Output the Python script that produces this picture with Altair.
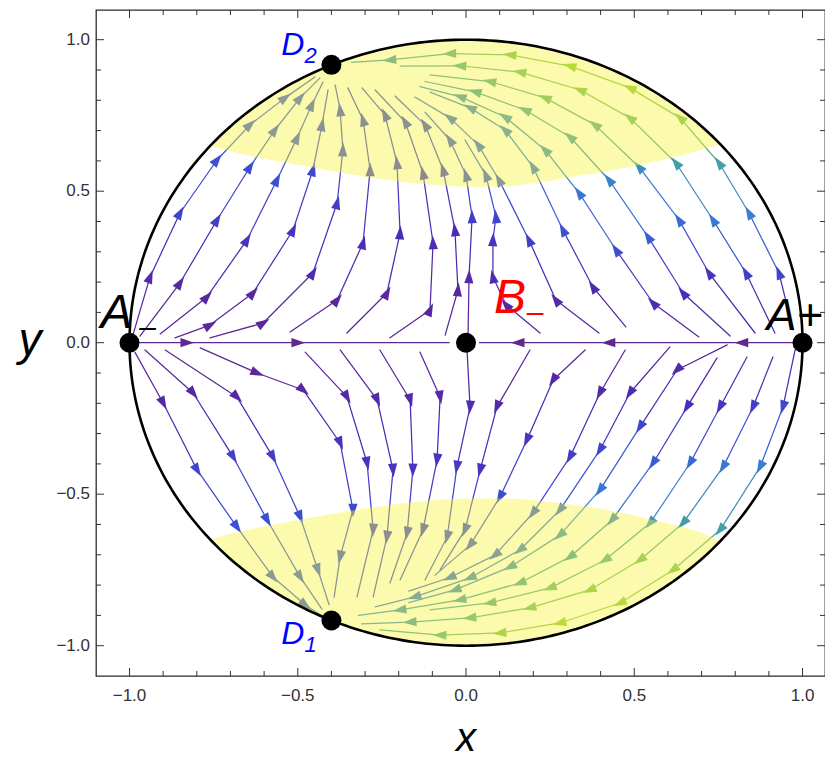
import numpy as np
import pandas as pd
import altair as alt

# ---------------- axes / frame ----------------
X_DOMAIN = [-1.0996, 1.0668]
Y_DOMAIN = [-1.100, 1.098]
W, H = 729, 666

MAJOR_TICKS = [-1.0, -0.5, 0.0, 0.5, 1.0]
TICK_LABELS = ["\u22121.0", "\u22120.5", "0.0", "0.5", "1.0"]
MINOR_TICKS = [-0.9, -0.8, -0.7, -0.6, -0.4, -0.3, -0.2, -0.1,
               0.1, 0.2, 0.3, 0.4, 0.6, 0.7, 0.8, 0.9]
X_TITLE = "x"
Y_TITLE = "y"

# ---------------- fixed points ----------------
POINT_NAMES = ["A-", "A+", "B-", "D2", "D1"]
POINT_X = [-1.0, 1.0, 0.0, -0.4, -0.4]
POINT_Y = [0.0, 0.0, 0.0, 0.917, -0.917]

# ---------------- yellow regions (inner edge) ----------------
TOP_EDGE_X = [-0.76, -0.7, -0.6, -0.5, -0.4, -0.3, -0.2, -0.1, 0.0, 0.1, 0.2, 0.3, 0.4, 0.5, 0.6, 0.7, 0.755]
TOP_EDGE_Y = [0.65, 0.632, 0.607, 0.587, 0.567, 0.548, 0.532, 0.521, 0.515, 0.515, 0.526, 0.545, 0.562, 0.583, 0.608, 0.638, 0.655]
BOT_EDGE_X = [-0.76, -0.7, -0.6, -0.5, -0.4, -0.3, -0.2, -0.1, 0.0, 0.1, 0.2, 0.3, 0.4, 0.5, 0.6, 0.7, 0.755]
BOT_EDGE_Y = [-0.65, -0.63, -0.607, -0.585, -0.565, -0.547, -0.532, -0.52, -0.514, -0.514, -0.52, -0.532, -0.548, -0.57, -0.597, -0.628, -0.655]

# ---------------- streamlines: (x, y, colour level 0=purple .. 1=green) ----------------
A1 = [(-0.990, 0.025, 0.05), (-0.939, 0.217, 0.15), (-0.850, 0.428, 0.40), (-0.740, 0.603, 0.45), (-0.642, 0.719, 0.50), (-0.538, 0.808, 0.50), (-0.449, 0.877, 0.50)]
A2 = [(-0.969, 0.022, 0.02), (-0.850, 0.197, 0.10), (-0.740, 0.405, 0.35), (-0.642, 0.580, 0.45), (-0.568, 0.702, 0.50), (-0.493, 0.808, 0.50), (-0.434, 0.874, 0.50)]
A3 = [(-0.909, 0.029, 0.02), (-0.770, 0.151, 0.10), (-0.651, 0.339, 0.30), (-0.562, 0.537, 0.45), (-0.502, 0.676, 0.50), (-0.458, 0.785, 0.50), (-0.425, 0.860, 0.50)]
A4 = [(-0.865, 0.016, 0.0), (-0.761, 0.058, 0.05), (-0.633, 0.164, 0.10), (-0.514, 0.372, 0.30), (-0.455, 0.570, 0.42), (-0.428, 0.719, 0.45), (-0.410, 0.834, 0.45)]
A5 = [(-0.761, 0.016, 0.0), (-0.603, 0.065, 0.05), (-0.455, 0.230, 0.20), (-0.383, 0.461, 0.35), (-0.366, 0.636, 0.42), (-0.374, 0.768, 0.45), (-0.389, 0.851, 0.45)]
A6 = [(-0.523, 0.035, 0.0), (-0.383, 0.141, 0.10), (-0.306, 0.329, 0.25), (-0.285, 0.570, 0.38), (-0.306, 0.735, 0.42), (-0.351, 0.841, 0.45)]
A7 = [(-0.354, 0.032, 0.0), (-0.235, 0.164, 0.10), (-0.196, 0.362, 0.25), (-0.205, 0.593, 0.38), (-0.241, 0.752, 0.42), (-0.309, 0.841, 0.45)]
A8 = [(-0.226, 0.016, 0.0), (-0.107, 0.108, 0.10), (-0.098, 0.329, 0.22), (-0.128, 0.560, 0.35), (-0.181, 0.729, 0.42), (-0.270, 0.834, 0.45)]
A9 = [(-0.062, 0.025, 0.0), (-0.024, 0.174, 0.10), (-0.033, 0.372, 0.25), (-0.068, 0.570, 0.35), (-0.122, 0.719, 0.42), (-0.211, 0.814, 0.45)]
UP = [(0.006, 0.025, 0.0), (0.009, 0.217, 0.15), (0.018, 0.415, 0.35), (0.0, 0.553, 0.45), (-0.048, 0.669, 0.50), (-0.122, 0.761, 0.50)]

R8 = [(0.220, 0.032, 0.0), (0.119, 0.125, 0.10), (0.080, 0.217, 0.20), (0.080, 0.339, 0.30), (0.089, 0.415, 0.40), (0.059, 0.553, 0.50), (-0.003, 0.669, 0.55)]
R7 = [(0.395, 0.032, 0.0), (0.267, 0.141, 0.15), (0.187, 0.339, 0.35), (0.098, 0.537, 0.50), (0.036, 0.653, 0.55), (-0.048, 0.742, 0.55), (-0.152, 0.811, 0.55)]
R6 = [(0.475, 0.052, 0.0), (0.377, 0.184, 0.20), (0.288, 0.372, 0.45), (0.199, 0.580, 0.60), (0.116, 0.702, 0.65), (0.012, 0.775, 0.65), (-0.107, 0.827, 0.60)]
R5 = [(0.692, 0.019, 0.0), (0.556, 0.131, 0.20), (0.446, 0.306, 0.45), (0.336, 0.494, 0.60), (0.235, 0.636, 0.70), (0.116, 0.745, 0.72), (-0.018, 0.812, 0.70), (-0.137, 0.845, 0.65)]
R4 = [(0.785, 0.022, 0.0), (0.645, 0.164, 0.25), (0.541, 0.349, 0.50), (0.425, 0.537, 0.65), (0.309, 0.679, 0.78), (0.175, 0.768, 0.82), (0.027, 0.828, 0.78), (-0.122, 0.862, 0.70)]
R3 = [(0.859, 0.032, 0.05), (0.722, 0.230, 0.30), (0.633, 0.405, 0.55), (0.514, 0.580, 0.70), (0.383, 0.719, 0.85), (0.235, 0.808, 0.90), (0.071, 0.862, 0.85), (-0.107, 0.884, 0.75)]
R2 = [(0.918, 0.032, 0.05), (0.832, 0.230, 0.35), (0.734, 0.405, 0.60), (0.624, 0.593, 0.78), (0.487, 0.742, 0.92), (0.339, 0.834, 0.95), (0.160, 0.893, 0.92), (-0.018, 0.914, 0.85), (-0.196, 0.913, 0.75)]
R1 = [(0.972, 0.042, 0.05), (0.930, 0.230, 0.40), (0.841, 0.428, 0.62), (0.752, 0.593, 0.80), (0.636, 0.742, 0.95), (0.487, 0.841, 1.0), (0.309, 0.913, 1.0), (0.131, 0.950, 0.95), (-0.048, 0.954, 0.85), (-0.226, 0.933, 0.75), (-0.340, 0.925, 0.65)]

C1 = [(-0.984, -0.031, 0.05), (-0.900, -0.199, 0.15), (-0.799, -0.420, 0.40), (-0.681, -0.608, 0.45), (-0.574, -0.773, 0.50), (-0.478, -0.865, 0.50), (-0.428, -0.902, 0.50)]
C2 = [(-0.954, -0.024, 0.02), (-0.811, -0.166, 0.12), (-0.692, -0.377, 0.38), (-0.591, -0.585, 0.45), (-0.493, -0.773, 0.50), (-0.428, -0.879, 0.50)]
C3 = [(-0.894, -0.024, 0.02), (-0.681, -0.179, 0.12), (-0.574, -0.377, 0.35), (-0.493, -0.575, 0.45), (-0.440, -0.750, 0.50), (-0.407, -0.865, 0.50)]
C4 = [(-0.790, -0.017, 0.0), (-0.621, -0.100, 0.05), (-0.484, -0.156, 0.12), (-0.374, -0.331, 0.30), (-0.336, -0.552, 0.42), (-0.374, -0.707, 0.45), (-0.392, -0.840, 0.45)]
C5 = [(-0.478, -0.031, 0.0), (-0.354, -0.179, 0.15), (-0.294, -0.397, 0.30), (-0.276, -0.618, 0.40), (-0.324, -0.839, 0.45)]
C6 = [(-0.374, -0.024, 0.0), (-0.264, -0.189, 0.15), (-0.217, -0.420, 0.30), (-0.235, -0.641, 0.40), (-0.276, -0.839, 0.45)]
C7 = [(-0.256, -0.024, 0.0), (-0.166, -0.189, 0.15), (-0.158, -0.420, 0.30), (-0.175, -0.628, 0.40), (-0.226, -0.793, 0.45)]
C8 = [(-0.137, -0.031, 0.0), (-0.077, -0.179, 0.15), (-0.086, -0.387, 0.30), (-0.128, -0.618, 0.40), (-0.196, -0.783, 0.45)]
DOWN = [(0.003, -0.024, 0.0), (0.012, -0.212, 0.20), (-0.027, -0.410, 0.35), (-0.056, -0.641, 0.45), (-0.122, -0.783, 0.50)]

S9 = [(0.190, -0.024, 0.0), (0.092, -0.212, 0.15), (0.042, -0.420, 0.30), (-0.003, -0.618, 0.42), (-0.077, -0.750, 0.48)]
S8 = [(0.354, -0.024, 0.0), (0.259, -0.123, 0.12), (0.181, -0.321, 0.30), (0.101, -0.509, 0.45), (0.012, -0.668, 0.50), (-0.092, -0.767, 0.50)]
S7 = [(0.473, -0.024, 0.0), (0.398, -0.166, 0.15), (0.309, -0.377, 0.35), (0.199, -0.562, 0.50), (0.086, -0.701, 0.55), (-0.048, -0.775, 0.55), (-0.170, -0.820, 0.55)]
S6 = [(0.606, -0.014, 0.0), (0.487, -0.166, 0.20), (0.398, -0.354, 0.40), (0.279, -0.552, 0.55), (0.160, -0.684, 0.65), (0.012, -0.776, 0.65), (-0.152, -0.839, 0.60), (-0.270, -0.872, 0.58)]
S5 = [(0.776, -0.007, 0.0), (0.627, -0.090, 0.15), (0.517, -0.278, 0.40), (0.398, -0.486, 0.60), (0.279, -0.635, 0.72), (0.131, -0.740, 0.72), (-0.033, -0.816, 0.68), (-0.170, -0.858, 0.62)]
S4 = [(0.746, -0.050, 0.0), (0.657, -0.212, 0.25), (0.556, -0.397, 0.50), (0.434, -0.585, 0.65), (0.309, -0.707, 0.78), (0.160, -0.793, 0.82), (-0.018, -0.849, 0.78), (-0.196, -0.882, 0.70), (-0.320, -0.900, 0.62)]
S3 = [(0.835, -0.047, 0.05), (0.755, -0.212, 0.30), (0.666, -0.397, 0.55), (0.547, -0.595, 0.72), (0.413, -0.717, 0.85), (0.250, -0.809, 0.90), (0.071, -0.859, 0.85), (-0.107, -0.882, 0.75)]
S2 = [(0.912, -0.047, 0.05), (0.853, -0.212, 0.35), (0.764, -0.410, 0.60), (0.645, -0.595, 0.78), (0.517, -0.717, 0.92), (0.368, -0.816, 0.95), (0.190, -0.875, 0.92), (0.012, -0.908, 0.85), (-0.166, -0.922, 0.75), (-0.310, -0.928, 0.65)]
S1 = [(0.978, -0.024, 0.05), (0.942, -0.212, 0.40), (0.874, -0.410, 0.62), (0.755, -0.618, 0.80), (0.615, -0.750, 0.95), (0.458, -0.859, 1.0), (0.279, -0.925, 1.0), (0.101, -0.958, 0.95), (-0.077, -0.965, 0.85), (-0.256, -0.948, 0.75)]

AXL = [(-0.984, 0.0, 0.0), (-0.83, 0.0, 0.0), (-0.50, 0.0, 0.0), (-0.05, 0.0, 0.0)]
AXR = [(0.99, 0.0, 0.0), (0.82, 0.0, 0.0), (0.425, 0.0, 0.0), (0.155, 0.0, 0.0), (0.04, 0.0, 0.0)]

STREAMS = [A1, A2, A3, A4, A5, A6, A7, A8, A9, UP,
           R1, R2, R3, R4, R5, R6, R7, R8,
           C1, C2, C3, C4, C5, C6, C7, C8, DOWN,
           S1, S2, S3, S4, S5, S6, S7, S8, S9,
           AXL, AXR]

COLOR_LEVELS = [0.0, 0.25, 0.45, 0.62, 0.8, 1.0]
COLOR_RANGE = ["#612690", "#4a2cb8", "#3d4ed3", "#3a7dd4", "#44a0a2", "#8dc63f"]

# ---------------- build tables ----------------
sx = W / (X_DOMAIN[1] - X_DOMAIN[0])
sy = H / (Y_DOMAIN[1] - Y_DOMAIN[0])

seg_rows, arr_rows = [], []
for k, line in enumerate(STREAMS):
    for i in range(len(line) - 1):
        (x0, y0, c0), (x1, y1, c1) = line[i], line[i + 1]
        seg_rows.append({"x": x0, "y": y0, "x2": x1, "y2": y1, "c": (c0 + c1) / 2})
    for i in range(1, len(line) - 1):
        xp, yp, _ = line[i - 1]
        xn, yn, _ = line[i + 1]
        ang = float(np.degrees(np.arctan2((xn - xp) * sx, (yn - yp) * sy)) % 360)
        arr_rows.append({"x": line[i][0], "y": line[i][1], "c": line[i][2], "ang": ang})
seg_df = pd.DataFrame(seg_rows)
arr_df = pd.DataFrame(arr_rows)

top_df = pd.DataFrame({"x": TOP_EDGE_X,
                       "y": np.sqrt(np.clip(1 - np.array(TOP_EDGE_X) ** 2, 0, None)),
                       "y2": TOP_EDGE_Y})
bot_df = pd.DataFrame({"x": BOT_EDGE_X,
                       "y": -np.sqrt(np.clip(1 - np.array(BOT_EDGE_X) ** 2, 0, None)),
                       "y2": BOT_EDGE_Y})

t = np.linspace(0, 2 * np.pi, 361)
circ_df = pd.DataFrame({"x": np.cos(t), "y": np.sin(t), "i": np.arange(len(t))})

pts_df = pd.DataFrame({"name": POINT_NAMES, "x": POINT_X, "y": POINT_Y})
tick_df = pd.DataFrame({"v": MAJOR_TICKS, "label": TICK_LABELS})

xs = alt.Scale(domain=X_DOMAIN, nice=False, zero=False)
ys = alt.Scale(domain=Y_DOMAIN, nice=False, zero=False)
cs = alt.Scale(domain=COLOR_LEVELS, range=COLOR_RANGE, interpolate="rgb")

FONT = "Liberation Sans"

def X(field="x"):
    return alt.X(f"{field}:Q", scale=xs, axis=None)

def Y(field="y"):
    return alt.Y(f"{field}:Q", scale=ys, axis=None)

segs = alt.Chart(seg_df).mark_rule(strokeWidth=1.25, strokeCap="round").encode(
    x=X(), y=Y(), x2="x2:Q", y2="y2:Q",
    color=alt.Color("c:Q", scale=cs, legend=None),
)

ARROW = "M0,-1L0.62,0.85L-0.62,0.85Z"
arrows = alt.Chart(arr_df).mark_point(shape=ARROW, filled=True, size=220, opacity=1, strokeWidth=0).encode(
    x=X(), y=Y(),
    angle=alt.Angle("ang:Q", scale=None),
    color=alt.Color("c:Q", scale=cs, legend=None),
)

YELLOW = "#f5f23c"
top_area = alt.Chart(top_df).mark_area(color=YELLOW, opacity=0.42, interpolate="monotone").encode(
    x=X(), y=Y(), y2="y2:Q")
bot_area = alt.Chart(bot_df).mark_area(color=YELLOW, opacity=0.42, interpolate="monotone").encode(
    x=X(), y=Y(), y2="y2:Q")

circle = alt.Chart(circ_df).mark_line(color="black", strokeWidth=2.6).encode(
    x=X(), y=Y(), order="i:Q")

def tick_layers(values, length):
    d = pd.DataFrame({"v": values})
    base = alt.Chart(d).mark_rule(color="#333333", strokeWidth=1)
    return [
        base.encode(y=Y("v"), x=alt.value(0), x2=alt.value(length)),
        base.encode(y=Y("v"), x=alt.value(W), x2=alt.value(W - length)),
        base.encode(x=X("v"), y=alt.value(H), y2=alt.value(H - length)),
        base.encode(x=X("v"), y=alt.value(0), y2=alt.value(length)),
    ]

ticks = tick_layers(MAJOR_TICKS, 8) + tick_layers(MINOR_TICKS, 5)

x_labels = alt.Chart(tick_df).mark_text(font=FONT, fontSize=17, color="#333333",
                                        align="center", baseline="alphabetic").encode(
    x=X("v"), y=alt.value(H + 25), text="label:N")
y_labels = alt.Chart(tick_df).mark_text(font=FONT, fontSize=17, color="#333333",
                                        align="right", baseline="middle").encode(
    y=Y("v"), x=alt.value(-6), text="label:N")

x_title = alt.Chart(pd.DataFrame({"t": [X_TITLE]})).mark_text(
    font=FONT, fontSize=40, fontStyle="italic", color="black", align="center", baseline="alphabetic"
).encode(x=alt.value(370), y=alt.value(H + 75), text="t:N")
y_title = alt.Chart(pd.DataFrame({"t": [Y_TITLE]})).mark_text(
    font=FONT, fontSize=46, fontStyle="italic", color="black", align="center", baseline="alphabetic"
).encode(x=alt.value(-66), y=alt.value(345), text="t:N")

dots = alt.Chart(pts_df).mark_circle(size=400, color="black", opacity=1).encode(x=X(), y=Y())

def label(name, text, dx, dy, size, color, align):
    d = pts_df[pts_df["name"] == name].assign(label=text)
    return alt.Chart(d).mark_text(dx=dx, dy=dy, fontSize=size, font=FONT, fontStyle="italic",
                                  color=color, align=align, baseline="alphabetic").encode(
        x=X(), y=Y(), text="label:N")

labels = [
    label("A-", "A", 3, -15, 48, "black", "right"),
    label("A-", "\u2013", 18, -6, 30, "black", "center"),
    label("A+", "A+", -36, -13, 45, "black", "left"),
    label("B-", "B", 28, -30, 48, "#ff0000", "left"),
    label("B-", "\u2013", 69, -21, 30, "#ff0000", "center"),
    label("D2", "D", -27, -10, 32, "#0000ff", "right"),
    label("D2", "2", -27, -2, 22, "#0000ff", "left"),
    label("D1", "D", -27, 23, 32, "#0000ff", "right"),
    label("D1", "1", -27, 31, 22, "#0000ff", "left"),
]

chart = alt.layer(segs, arrows, top_area, bot_area, circle, *ticks, dots,
                  x_labels, y_labels, x_title, y_title, *labels).properties(
    width=W, height=H,
    padding={"left": 88, "top": 2, "right": 0, "bottom": 82},
    autosize=alt.AutoSizeParams(type="none"),
).configure_view(stroke="#2b2b2b", strokeWidth=1.3)

chart.save("out.html", embed_options={"renderer": "svg", "actions": False})
